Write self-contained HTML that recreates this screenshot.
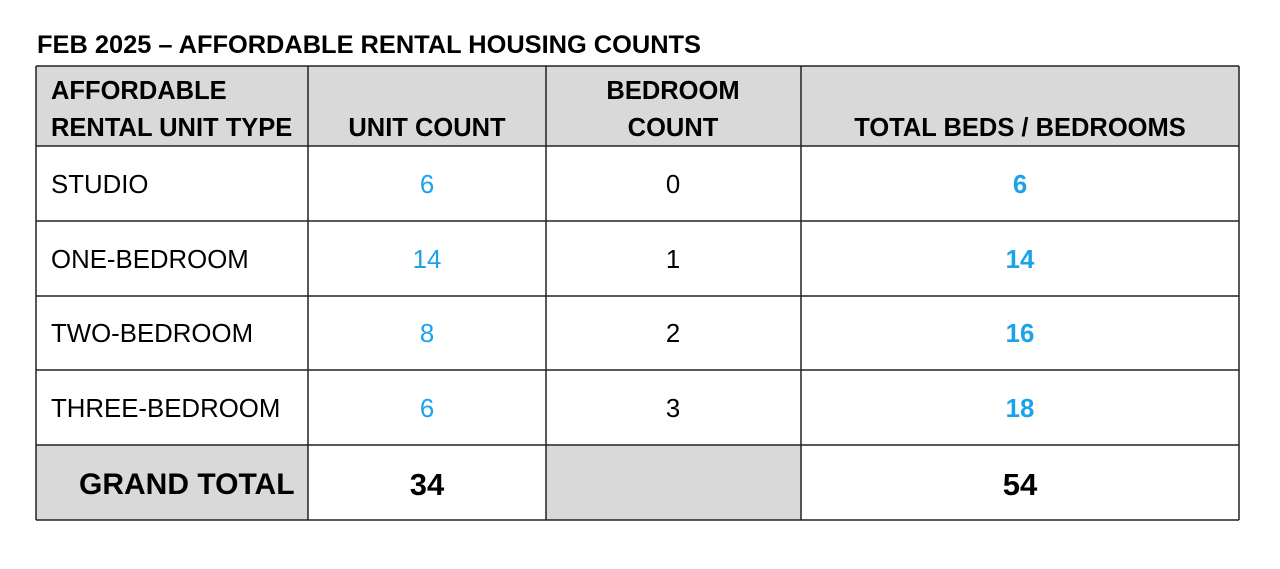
<!DOCTYPE html>
<html><head><meta charset="utf-8"><style>
body{margin:0;width:1280px;height:569px;background:#fff;position:relative;overflow:hidden;font-family:"Liberation Sans",Arial,sans-serif;}
.t{position:absolute;white-space:nowrap;line-height:1;}
.h{font-weight:bold;font-size:25.5px;color:#000;}
.b{font-size:25.8px;color:#000;}
.c{text-align:center;transform:translateX(-50%);}
.blue{color:#1aa3e8;}
.g{font-weight:bold;font-size:31px;color:#000;}
</style></head><body>
<svg width="1280" height="569" style="position:absolute;left:0;top:0">
<rect x="36" y="66" width="1203" height="80" fill="#d9d9d9"/>
<rect x="36" y="445" width="272" height="75" fill="#d9d9d9"/>
<rect x="546" y="445" width="255" height="75" fill="#d9d9d9"/>
<g stroke="#222" stroke-width="1.5">
<line x1="36" y1="66" x2="1239" y2="66"/>
<line x1="36" y1="146" x2="1239" y2="146"/>
<line x1="36" y1="221" x2="1239" y2="221"/>
<line x1="36" y1="296" x2="1239" y2="296"/>
<line x1="36" y1="370" x2="1239" y2="370"/>
<line x1="36" y1="445" x2="1239" y2="445"/>
<line x1="36" y1="520" x2="1239" y2="520"/>
<line x1="36" y1="66" x2="36" y2="520"/>
<line x1="308" y1="66" x2="308" y2="520"/>
<line x1="546" y1="66" x2="546" y2="520"/>
<line x1="801" y1="66" x2="801" y2="520"/>
<line x1="1239" y1="66" x2="1239" y2="520"/>
</g></svg>
<div class="t h" style="left:37px;top:33px;font-size:25.4px;">FEB 2025 – AFFORDABLE RENTAL HOUSING COUNTS</div>
<div class="t h" style="left:51px;top:79px;">AFFORDABLE</div>
<div class="t h" style="left:51px;top:116px;">RENTAL UNIT TYPE</div>
<div class="t h c" style="left:427px;top:116px;">UNIT COUNT</div>
<div class="t h c" style="left:673px;top:79px;">BEDROOM</div>
<div class="t h c" style="left:673px;top:116px;">COUNT</div>
<div class="t h c" style="left:1020px;top:116px;">TOTAL BEDS / BEDROOMS</div>

<div class="t b" style="left:51px;top:173px;">STUDIO</div>
<div class="t b c blue" style="left:427px;top:173px;">6</div>
<div class="t b c" style="left:673px;top:173px;">0</div>
<div class="t b c blue" style="left:1020px;top:173px;font-weight:bold;">6</div>

<div class="t b" style="left:51px;top:248px;">ONE-BEDROOM</div>
<div class="t b c blue" style="left:427px;top:248px;">14</div>
<div class="t b c" style="left:673px;top:248px;">1</div>
<div class="t b c blue" style="left:1020px;top:248px;font-weight:bold;">14</div>

<div class="t b" style="left:51px;top:322px;">TWO-BEDROOM</div>
<div class="t b c blue" style="left:427px;top:322px;">8</div>
<div class="t b c" style="left:673px;top:322px;">2</div>
<div class="t b c blue" style="left:1020px;top:322px;font-weight:bold;">16</div>

<div class="t b" style="left:51px;top:397px;">THREE-BEDROOM</div>
<div class="t b c blue" style="left:427px;top:397px;">6</div>
<div class="t b c" style="left:673px;top:397px;">3</div>
<div class="t b c blue" style="left:1020px;top:397px;font-weight:bold;">18</div>

<div class="t g" style="left:79px;top:470px;font-size:30px;">GRAND TOTAL</div>
<div class="t g c" style="left:427px;top:469px;">34</div>
<div class="t g c" style="left:1020px;top:469px;">54</div>
</body></html>
